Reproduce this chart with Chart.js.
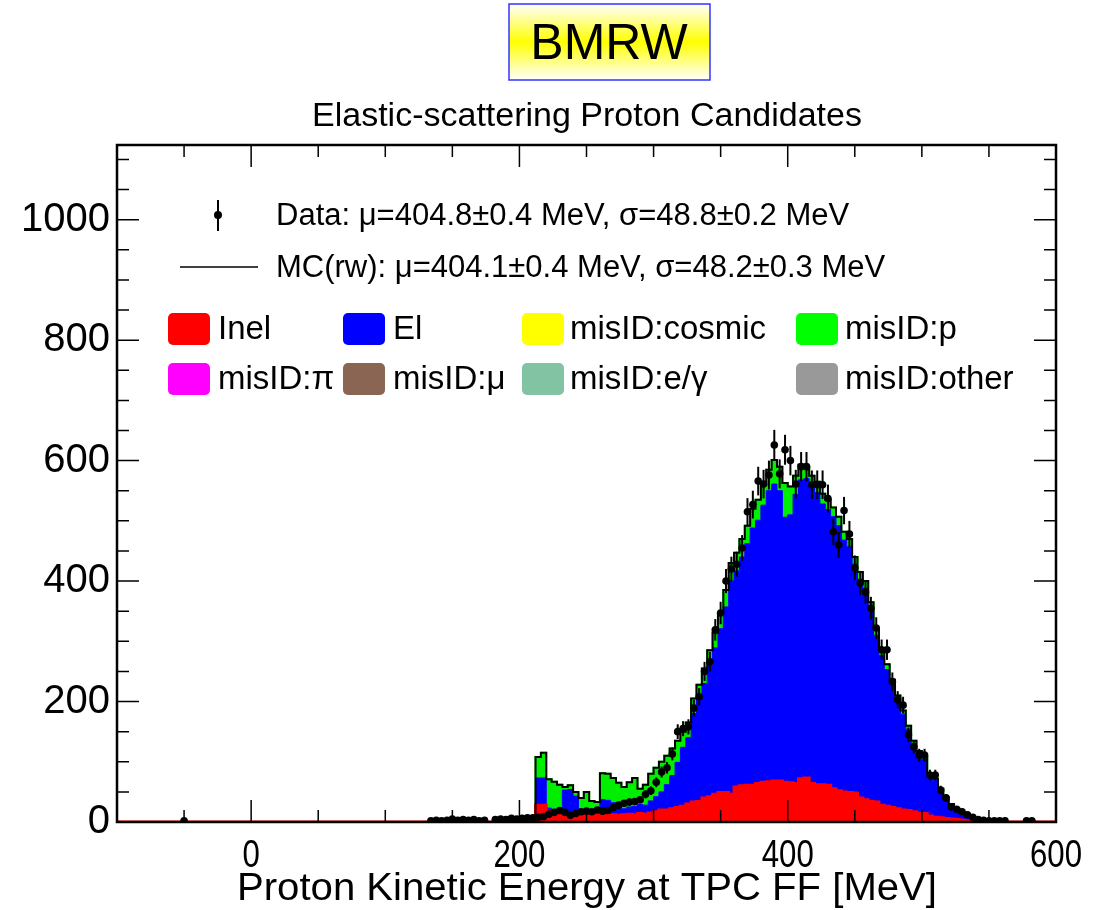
<!DOCTYPE html>
<html>
<head>
<meta charset="utf-8">
<script src="https://cdn.jsdelivr.net/npm/chart.js@4.4.1/dist/chart.umd.min.js"></script>
<style>
  html, body { margin: 0; padding: 0; background: #fff; }
  #wrap { position: relative; width: 1113px; height: 910px; }
</style>
</head>
<body>
<div id="wrap"><canvas id="c" width="1113" height="910"></canvas></div>
<script>
// 4 MeV bins from -100 to 600 MeV
const binLo = -100, binW = 4, nBins = 175;

// MC stack, left bin edges starting at 212 MeV
const mcStart = 212;
const inel = [28,28,18,16,15,15,14,13,12,13,
  10,12,12,12,12,11,12,13,12,14,
  13,15,17,20,20,22,24,26,30,33,
  34,40,42,46,49,49,46,58,60,61,
  61,64,66,67,68,68,66,65,64,72,
  73,64,62,62,61,55,52,50,49,48,
  40,37,34,33,28,26,24,22,20,19,
  17,15,14,10,8,7,6,5,4,3,
  2,2,1,1,1,0];
const el = [45,45,5,5,5,38,40,30,8,7,
  8,8,25,24,20,14,10,12,14,15,
  15,20,25,30,42,55,75,98,110,147,
  170,190,218,243,272,308,354,359,380,401,
  427,437,460,483,493,482,440,445,480,496,
  497,491,485,466,458,452,440,418,408,380,
  363,351,320,277,248,227,204,181,159,135,
  113,98,90,66,61,45,33,23,17,11,
  6,3,2,1,1,1];
const misIDp = [35,42,48,46,42,5,7,7,20,30,
  17,13,44,44,41,40,36,41,47,26,
  34,45,48,50,48,45,36,26,25,25,
  24,25,25,25,26,28,30,30,30,30,
  32,34,34,35,40,40,57,47,31,25,
  20,20,18,17,16,15,15,14,13,12,
  12,12,11,10,9,9,8,7,6,6,
  5,5,4,4,3,3,2,2,1,1,
  1,1,1,1,0,0];

// data counts, bin centres starting at 134 MeV
const dataStart = 134;
const dataN = [2,3,2,3,5,3,4,3,4,2,3,0,4,5,4,6,5,6,7,
  7,8,9,13,16,19,16,11,14,17,
  18,17,20,18,19,24,28,31,33,34,
  37,46,52,66,83,90,113,150,155,158,
  189,208,250,266,319,347,400,420,428,455,
  515,527,566,561,576,626,578,618,600,561,
  590,590,560,560,560,537,482,460,517,478,
  422,397,382,355,322,286,286,233,203,194,
  145,125,111,111,78,78,53,40,25,21,
  17,12,8,4,3,2,2,2,2,0,
  0,0,2,2];
const dataExtraX = [-50];
const dataExtraN = [2];

const xTicks = [0, 200, 400, 600];
const yTicks = [0, 200, 400, 600, 800, 1000];

const legendNames = ['Inel', 'El', 'misID:cosmic', 'misID:p', 'misID:\u03c0', 'misID:\u03bc', 'misID:e/\u03b3', 'misID:other'];
const legendColors = ['#ff0000', '#0000ff', '#ffff00', '#00ff00', '#ff00ff', '#8b6553', '#82c3a3', '#999999'];

const SANS = '"Liberation Sans", Arial, Helvetica, sans-serif';

const edges = [];
for (let i = 0; i <= nBins; i++) edges.push(binLo + i * binW);

function histPoints(arr, start) {
  return edges.map((x, i) => {
    const k = (x - start) / binW;
    const v = (i < nBins && k >= 0 && k < arr.length) ? arr[k] : 0;
    return { x: x, y: v };
  });
}

// MC(rw) outline
const mcLine = [{ x: mcStart - binW, y: 0 }];
inel.forEach((v, i) => mcLine.push({ x: mcStart + i * binW, y: v + el[i] + misIDp[i] }));
mcLine.push({ x: mcStart + inel.length * binW, y: 0 });

const dataPts = [];
dataExtraX.forEach((x, i) => dataPts.push({ x: x, y: dataExtraN[i] }));
dataN.forEach((n, i) => { if (n > 0) dataPts.push({ x: dataStart + i * binW, y: n }); });

function histDs(label, arr, color, bw, fill) {
  return {
    label: label, data: histPoints(arr, mcStart), stack: 'mc', stepped: 'before',
    borderColor: color, backgroundColor: color, borderWidth: bw,
    pointRadius: 0, fill: fill
  };
}

// draw text squeezed horizontally (narrow look)
function narrowText(ctx, txt, x, y, sx) {
  ctx.save();
  ctx.translate(x, y);
  ctx.scale(sx, 1);
  ctx.fillText(txt, 0, 0);
  ctx.restore();
}

const decor = {
  id: 'decor',
  afterDatasetsDraw(chart) {
    const ctx = chart.ctx, ys = chart.scales.y;
    const meta = chart.getDatasetMeta(0);
    ctx.save();
    ctx.strokeStyle = '#000';
    ctx.lineWidth = 2;
    meta.data.forEach((pt, i) => {
      const v = dataPts[i].y, e = Math.sqrt(v);
      ctx.beginPath();
      ctx.moveTo(pt.x, ys.getPixelForValue(v - e));
      ctx.lineTo(pt.x, ys.getPixelForValue(v + e));
      ctx.stroke();
    });
    ctx.restore();
  },
  afterDraw(chart) {
    const ctx = chart.ctx, a = chart.chartArea;
    const xs = chart.scales.x, ys = chart.scales.y;
    ctx.save();
    // ticks
    ctx.strokeStyle = '#000';
    ctx.lineWidth = 1.5;
    for (let v = -50; v < 600; v += 50) {
      const px = xs.getPixelForValue(v), len = v % 200 === 0 ? 22 : 12;
      ctx.beginPath();
      ctx.moveTo(px, a.bottom); ctx.lineTo(px, a.bottom - len);
      ctx.moveTo(px, a.top); ctx.lineTo(px, a.top + len);
      ctx.stroke();
    }
    for (let v = 50; v <= 1100; v += 50) {
      const py = ys.getPixelForValue(v), len = v % 200 === 0 ? 22 : 12;
      ctx.beginPath();
      ctx.moveTo(a.left, py); ctx.lineTo(a.left + len, py);
      ctx.moveTo(a.right, py); ctx.lineTo(a.right - len, py);
      ctx.stroke();
    }
    // frame
    ctx.lineWidth = 2.5;
    ctx.strokeRect(a.left, a.top, a.right - a.left, a.bottom - a.top);

    ctx.fillStyle = '#000';
    ctx.textAlign = 'center';
    ctx.textBaseline = 'alphabetic';

    // x tick labels (narrow)
    ctx.font = '38px ' + SANS;
    xTicks.forEach(v => narrowText(ctx, String(v), xs.getPixelForValue(v), 867, 0.82));

    // x title, fitted to width
    ctx.font = '39px ' + SANS;
    const xt = 'Proton Kinetic Energy at TPC FF [MeV]';
    const w = ctx.measureText(xt).width;
    narrowText(ctx, xt, 587, 900, 700 / w);

    // title
    ctx.textBaseline = 'middle';
    ctx.font = '34px ' + SANS;
    ctx.fillText('Elastic-scattering Proton Candidates', 587, 117);

    // BMRW box
    const g = ctx.createLinearGradient(0, 4, 0, 80);
    g.addColorStop(0, '#ffffff');
    g.addColorStop(0.5, '#ffff00');
    g.addColorStop(1, '#ffffff');
    ctx.fillStyle = g;
    ctx.fillRect(509, 4, 201, 76);
    ctx.strokeStyle = '#3333ff';
    ctx.lineWidth = 1.5;
    ctx.strokeRect(509, 4, 201, 76);
    ctx.fillStyle = '#000';
    ctx.font = '50px ' + SANS;
    ctx.fillText('BMRW', 609, 45);

    // legend: data and MC lines
    ctx.strokeStyle = '#000';
    ctx.textAlign = 'left';
    ctx.font = '31px ' + SANS;
    ctx.fillText('Data: \u03bc=404.8\u00b10.4 MeV, \u03c3=48.8\u00b10.2 MeV', 276, 216);
    ctx.fillText('MC(rw): \u03bc=404.1\u00b10.4 MeV, \u03c3=48.2\u00b10.3 MeV', 276, 268);
    ctx.lineWidth = 2;
    ctx.beginPath();
    ctx.moveTo(218, 200); ctx.lineTo(218, 231);
    ctx.stroke();
    ctx.beginPath();
    ctx.arc(218, 215, 4, 0, Math.PI * 2);
    ctx.fill();
    ctx.lineWidth = 1.5;
    ctx.beginPath();
    ctx.moveTo(180, 267); ctx.lineTo(258, 267);
    ctx.stroke();

    // legend: stack components
    const boxX = [168, 343, 522, 796], textX = [218, 393, 570, 845], rowY = [329, 379];
    ctx.font = '34px ' + SANS;
    legendNames.forEach((name, i) => {
      const c = i % 4, r = Math.floor(i / 4);
      ctx.fillStyle = legendColors[i];
      ctx.beginPath();
      ctx.roundRect(boxX[c], rowY[r] - 16, 42, 32, 5);
      ctx.fill();
      ctx.fillStyle = '#000';
      narrowText(ctx, name, textX[c], rowY[r] + 1, 0.97);
    });
    ctx.restore();
  }
};

new Chart(document.getElementById('c').getContext('2d'), {
  type: 'line',
  data: {
    datasets: [
      { label: 'Data', data: dataPts, stack: 'data', showLine: false,
        pointRadius: 3.8, pointBackgroundColor: '#000', pointBorderWidth: 0 },
      { label: 'MC(rw)', data: mcLine, stack: 'mcline', stepped: 'before',
        borderColor: '#000', borderWidth: 2, pointRadius: 0, fill: false },
      histDs('Inel', inel, '#ff0000', 3, 'origin'),
      histDs('El', el, '#0000ff', 1, '-1'),
      histDs('misID:p', misIDp, '#00ee00', 2, '-1')
    ]
  },
  options: {
    responsive: false,
    animation: false,
    layout: { padding: { top: 145, right: 57, left: 0, bottom: 0 } },
    plugins: { legend: { display: false }, tooltip: { enabled: false } },
    scales: {
      x: {
        type: 'linear', min: -100, max: 600,
        grid: { display: false, drawTicks: false }, border: { display: false },
        afterBuildTicks: s => { s.ticks = xTicks.map(v => ({ value: v })); },
        afterFit: s => { s.height = 88; },
        ticks: { display: false }
      },
      y: {
        stacked: true, min: 0, max: 1124,
        grid: { display: false, drawTicks: false }, border: { display: false },
        afterBuildTicks: s => { s.ticks = yTicks.map(v => ({ value: v })); },
        afterFit: s => { s.width = 117; },
        ticks: { color: '#000', padding: 7, font: { family: SANS, size: 40 },
                 callback: v => String(v) }
      }
    }
  },
  plugins: [decor]
});
</script>
</body>
</html>
